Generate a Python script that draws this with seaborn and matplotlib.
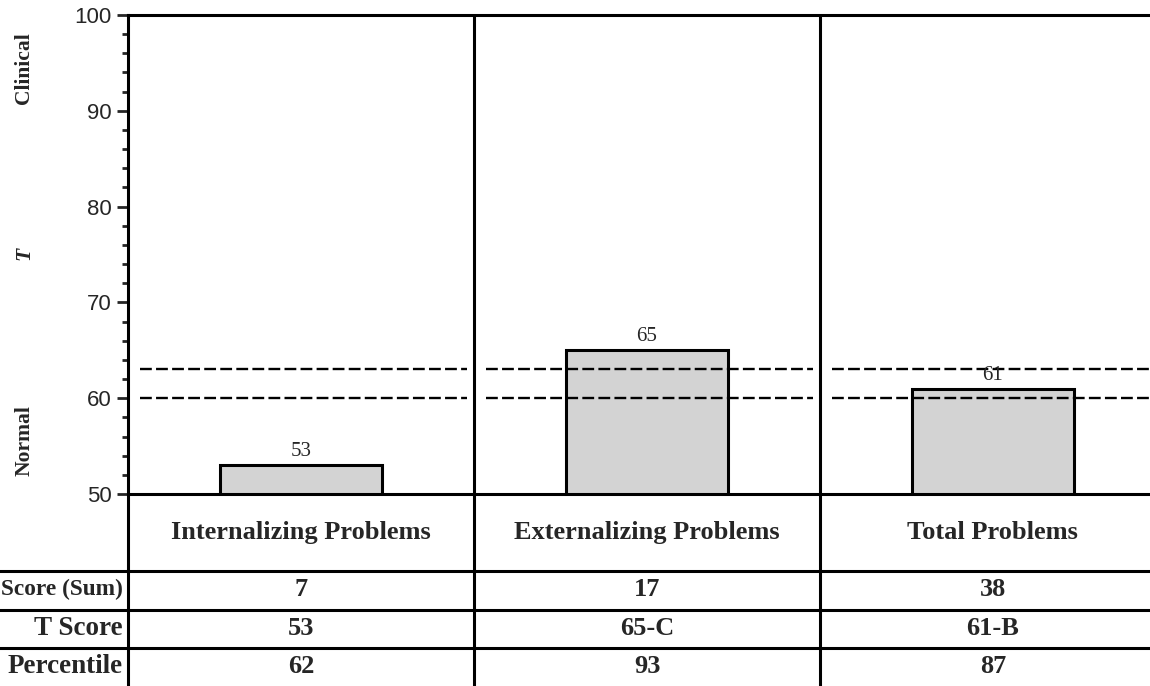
import pandas as pd
import matplotlib.pyplot as plt
import matplotlib.transforms as mtransforms
from matplotlib.ticker import MultipleLocator
import seaborn as sns

categories = ['Internalizing Problems', 'Externalizing Problems', 'Total Problems']
t_scores = [53, 65, 61]
row_names = ['Score (Sum)', 'T Score', 'Percentile']
raw_scores = ['7', '17', '38']
t_labels = ['53', '65-C', '61-B']
percentiles = ['62', '93', '87']
cutoffs = [60, 63]

df = pd.DataFrame({'scale': categories, 'T': t_scores})

sns.set_style("ticks")
plt.rcParams['font.family'] = ['Liberation Serif', 'DejaVu Serif']

fig = plt.figure(figsize=(11.5, 6.86), dpi=100)
ax = fig.add_axes([128 / 1150, 192 / 686, 1022 / 1150, 479 / 686])

sns.barplot(data=df, x='scale', y='T', ax=ax, color='#D3D3D3', edgecolor='black',
            linewidth=2.2, width=0.47, saturation=1)

ax.set_ylim(50, 100)
ax.set_xlim(-0.5, 2.454)

# cutoff lines, one segment per panel
for i in range(len(categories)):
    for c in cutoffs:
        ax.hlines(c, i - 0.465, i + 0.48, colors='black', linewidth=1.7,
                  linestyles=(0, (5, 1.8)), zorder=3)

# bar values
for i, v in enumerate(t_scores):
    ax.text(i, v + 0.4, str(v), ha='center', va='bottom', fontsize=15)

# panel dividers through the table
for b in [0.5, 1.5]:
    ax.axvline(b, ymin=-0.45, ymax=1, color='black', linewidth=2.2, clip_on=False)
ax.axvline(-0.5, ymin=-0.45, ymax=0, color='black', linewidth=2.2, clip_on=False)

# table rows
for yy in [-0.161, -0.242, -0.3215]:
    ax.plot([-0.2, 1.1], [yy, yy], transform=ax.transAxes, color='black',
            linewidth=2.2, clip_on=False)

trans = mtransforms.blended_transform_factory(ax.transData, ax.transAxes)
for i, name in enumerate(categories):
    ax.text(i, -0.081, name, transform=trans, ha='center', va='center',
            fontsize=19, fontweight='bold')
rows = [raw_scores, t_labels, percentiles]
row_y = [-0.2, -0.281, -0.36]
row_size = [16.8, 19.5, 19.5]
for vals, yy, rn, fs in zip(rows, row_y, row_names, row_size):
    ax.text(-0.005, yy, rn, transform=ax.transAxes, ha='right', va='center',
            fontsize=fs, fontweight='bold')
    for i, v in enumerate(vals):
        ax.text(i, yy, v, transform=trans, ha='center', va='center',
                fontsize=19, fontweight='bold')

# axis styling
ax.yaxis.set_major_locator(MultipleLocator(10))
ax.yaxis.set_minor_locator(MultipleLocator(2))
ax.tick_params(axis='y', which='major', length=8, width=2, labelsize=16,
               direction='out', pad=4)
ax.tick_params(axis='y', which='minor', length=4.5, width=2, direction='out')
ax.tick_params(axis='x', bottom=False, labelbottom=False)
for lab in ax.get_yticklabels():
    lab.set_family(['Liberation Sans', 'DejaVu Sans'])
ax.set_xlabel('')
ax.set_ylabel('')
for s in ['left', 'top', 'bottom']:
    ax.spines[s].set_linewidth(2.2)
    ax.spines[s].set_color('black')
ax.spines['right'].set_visible(False)

fig.text(0.021, 1 - 68 / 686, 'Clinical', rotation=90, ha='center', va='center',
         fontsize=15.5, fontweight='bold')
fig.text(0.021, 1 - 253 / 686, 'T', rotation=90, ha='center', va='center',
         fontsize=15.5, fontweight='bold', fontstyle='italic')
fig.text(0.021, 1 - 441 / 686, 'Normal', rotation=90, ha='center', va='center',
         fontsize=15.5, fontweight='bold')

fig.savefig('out.png', dpi=100)
